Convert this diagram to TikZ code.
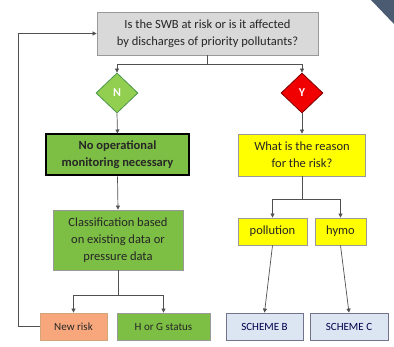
\documentclass[tikz,border=0pt]{standalone}
\usepackage{fontspec}
\setmainfont{Carlito}
\usepackage{tikz}
\usetikzlibrary{arrows.meta, positioning, shapes.geometric}
\definecolor{QGray}{HTML}{D9D9D9}
\definecolor{LGreen}{HTML}{7DBE45}
\definecolor{DGreen}{HTML}{92CF50}
\definecolor{DRed}{HTML}{F00000}
\definecolor{CYellow}{HTML}{FFFF00}
\definecolor{CSalmon}{HTML}{F8A77C}
\definecolor{CIce}{HTML}{DCE6F2}
\definecolor{CSlate}{HTML}{4B5B72}
\definecolor{CLine}{HTML}{505050}
\tikzset{
    flatblock/.style={
        rectangle,
        draw=gray!80,
        fill=LGreen,
        inner sep=1pt,
        align=center,
        font=\fontsize{12.5}{17}\selectfont,
        text=black!85,
        line width=0.8pt
    },
    smallblock/.style={
        flatblock,
        minimum height=27pt,
        font=\fontsize{11}{12}\selectfont
    },
    decision/.style={
        diamond,
        minimum width=42pt,
        minimum height=40pt,
        inner sep=0pt,
        line width=0.8pt,
        font=\fontsize{12}{12}\selectfont\bfseries
    },
    flatarrow/.style={
        -{Triangle[length=4pt, width=4pt]},
        draw=CLine,
        line width=0.7pt
    },
    flatline/.style={
        draw=CLine,
        line width=0.7pt
    }
}

\begin{document}
\begin{tikzpicture}[x=1pt, y=-1pt]
    \useasboundingbox (0,0) rectangle (394,347);
    \fill[CSlate] (371,0) -- (394,0) -- (394,24) -- cycle;

    % Nodes
    \node[flatblock, fill=QGray, minimum width=221pt, minimum height=43pt] (risk) at (207.5,33.5)
        {Is the SWB at risk or is it affected\\by discharges of priority pollutants?};

    \node[decision, draw=green!40!black!70, fill=DGreen, text=white] (no) at (117,93) {N};
    \node[decision, draw=red!50!black, fill=DRed, text=white] (yes) at (302,93) {Y};

    \node[flatblock, draw=black, line width=2pt, minimum width=143pt, minimum height=41pt,
        font=\fontsize{12.5}{17}\selectfont\bfseries] (noop) at (117.5,155)
        {No operational\\monitoring necessary};
    \node[flatblock, fill=CYellow, minimum width=127pt, minimum height=42pt] (reason) at (302,155)
        {What is the reason\\for the risk?};

    \node[flatblock, minimum width=130pt, minimum height=60pt] (classif) at (118,240)
        {Classification based\\on existing data or\\pressure data};

    \node[smallblock, fill=CYellow, minimum width=69pt, font=\fontsize{12.5}{12}\selectfont] (poll) at (272.5,231.5) {pollution};
    \node[smallblock, fill=CYellow, minimum width=51pt, font=\fontsize{12.5}{12}\selectfont] (hymo) at (340.5,231.5) {hymo};

    \node[smallblock, fill=CSalmon, draw=brown!70, minimum width=67pt] (newrisk) at (73.5,326.5) {New risk};
    \node[smallblock, minimum width=93pt] (status) at (163.5,326.5) {H or G status};
    \node[smallblock, fill=CIce, draw=gray!90!blue, text=black!70!blue, minimum width=77pt] (schemeb) at (264.5,326.5) {SCHEME B};
    \node[smallblock, fill=CIce, draw=gray!90!blue, text=black!70!blue, minimum width=78pt] (schemec) at (349,326.5) {SCHEME C};

    \coordinate (riskfork) at ([yshift=-9pt]risk.south);
    \coordinate (reasonfork) at ([yshift=-23pt]reason.south);
    \coordinate (classfork) at ([yshift=-25pt]classif.south);
    \coordinate (loop) at (18,326.5);

    % Paths
    \draw[flatline] (risk.south) -- (riskfork);
    \draw[flatarrow] (riskfork) -| (no.north);
    \draw[flatarrow] (riskfork) -| (yes.north);

    \draw[flatarrow] (no.south) -- (noop.north);
    \draw[flatarrow] (yes.south) -- (reason.north);

    \draw[flatarrow] (noop.south) -- (classif.north);

    \draw[flatline] (reason.south) -- (reasonfork);
    \draw[flatarrow] (reasonfork) -| (poll.north);
    \draw[flatarrow] (reasonfork) -| (hymo.north);

    \draw[flatline] (classif.south) -- (classfork);
    \draw[flatarrow] (classfork) -| (newrisk.north);
    \draw[flatarrow] (classfork) -| (status.north);

    \draw[flatarrow] (poll.south) -- (schemeb.north);
    \draw[flatarrow] (hymo.south) -- (schemec.north);

    \draw[flatarrow] (newrisk.west) -- (loop) |- (risk.west);

\end{tikzpicture}
\end{document}
